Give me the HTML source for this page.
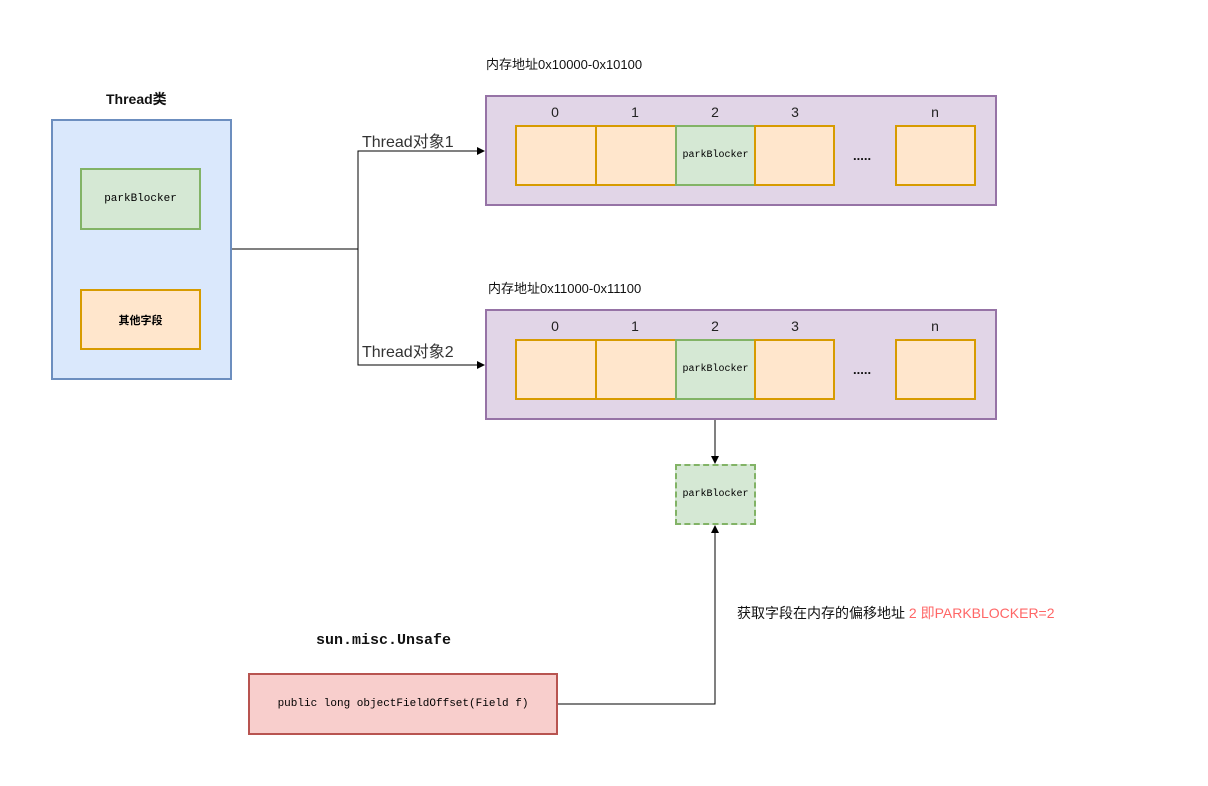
<!DOCTYPE html>
<html><head><meta charset="utf-8"><style>
body{margin:0;width:1208px;height:786px;background:#fff;position:relative;overflow:hidden;font-family:"Liberation Sans","Noto Sans CJK SC",sans-serif;}
.a{position:absolute;box-sizing:border-box;}
.c{display:flex;align-items:center;justify-content:center;}
.mono{font-family:"Liberation Mono",monospace;}
.or{background:#ffe6cc;border:2px solid #d79b00;}
.gr{background:#d5e8d4;border:2px solid #82b366;}
.pu{background:#e1d5e7;border:2px solid #9673a6;}
.t{position:absolute;font-size:13px;color:#111;}
.n{position:absolute;font-size:14px;color:#222;width:80px;text-align:center;}
</style></head><body>
<svg class="a" style="left:0;top:0" width="1208" height="786">
<defs><marker id="ar" markerWidth="8" markerHeight="8" refX="7" refY="4" orient="auto" markerUnits="userSpaceOnUse"><path d="M0,0 L8,4 L0,8 z" fill="#000"/></marker></defs>
<g fill="none" stroke="#000" stroke-width="1">
<path d="M231,249 H358 V151 H484" marker-end="url(#ar)"/>
<path d="M358,249 V365 H484" marker-end="url(#ar)"/>
<path d="M715,400 V463" marker-end="url(#ar)"/>
<path d="M558,704 H715 V526" marker-end="url(#ar)"/>
</g></svg>
<div class="t" style="left:106px;top:89px;font-weight:bold;font-size:14px">Thread类</div>
<div class="a" style="left:51px;top:119px;width:181px;height:261px;background:#dae8fc;border:2px solid #6c8ebf"></div>
<div class="a gr c mono" style="left:80px;top:168px;width:121px;height:62px;font-size:11px">parkBlocker</div>
<div class="a or c" style="left:80px;top:289px;width:121px;height:61px;font-size:11px;font-weight:bold">其他字段</div>

<div class="t" style="left:486px;top:54px">内存地址0x10000-0x10100</div>
<div class="t" style="left:362px;top:128px;font-size:16px;color:#333">Thread对象1</div>
<div class="a pu" style="left:485px;top:95px;width:512px;height:111px"></div>
<div class="n" style="left:515px;top:104px">0</div><div class="n" style="left:595px;top:104px">1</div><div class="n" style="left:675px;top:104px">2</div><div class="n" style="left:755px;top:104px">3</div><div class="n" style="left:895px;top:104px">n</div>
<div class="a or" style="left:515px;top:125px;width:82px;height:61px"></div>
<div class="a or" style="left:595px;top:125px;width:82px;height:61px"></div>
<div class="a gr c mono" style="left:675px;top:125px;width:81px;height:61px;font-size:10px">parkBlocker</div>
<div class="a or" style="left:754px;top:125px;width:81px;height:61px"></div>
<div class="t" style="left:853px;top:148px;font-weight:bold">.....</div>
<div class="a or" style="left:895px;top:125px;width:81px;height:61px"></div>

<div class="t" style="left:488px;top:278px">内存地址0x11000-0x11100</div>
<div class="t" style="left:362px;top:338px;font-size:16px;color:#333">Thread对象2</div>
<div class="a pu" style="left:485px;top:309px;width:512px;height:111px"></div>
<div class="n" style="left:515px;top:318px">0</div><div class="n" style="left:595px;top:318px">1</div><div class="n" style="left:675px;top:318px">2</div><div class="n" style="left:755px;top:318px">3</div><div class="n" style="left:895px;top:318px">n</div>
<div class="a or" style="left:515px;top:339px;width:82px;height:61px"></div>
<div class="a or" style="left:595px;top:339px;width:82px;height:61px"></div>
<div class="a gr c mono" style="left:675px;top:339px;width:81px;height:61px;font-size:10px">parkBlocker</div>
<div class="a or" style="left:754px;top:339px;width:81px;height:61px"></div>
<div class="t" style="left:853px;top:362px;font-weight:bold">.....</div>
<div class="a or" style="left:895px;top:339px;width:81px;height:61px"></div>

<div class="a c mono" style="left:675px;top:464px;width:81px;height:61px;background:#d5e8d4;border:2px dashed #82b366;font-size:10px">parkBlocker</div>
<div class="t" style="left:737px;top:603px;font-size:14px">获取字段在内存的偏移地址 <span style="color:#ff6666">2 即PARKBLOCKER=2</span></div>
<div class="t mono" style="left:316px;top:632px;font-weight:bold;font-size:15px">sun.misc.Unsafe</div>
<div class="a c mono" style="left:248px;top:673px;width:310px;height:62px;background:#f8cecc;border:2px solid #b85450;font-size:11px">public long objectFieldOffset(Field f)</div>
</body></html>
